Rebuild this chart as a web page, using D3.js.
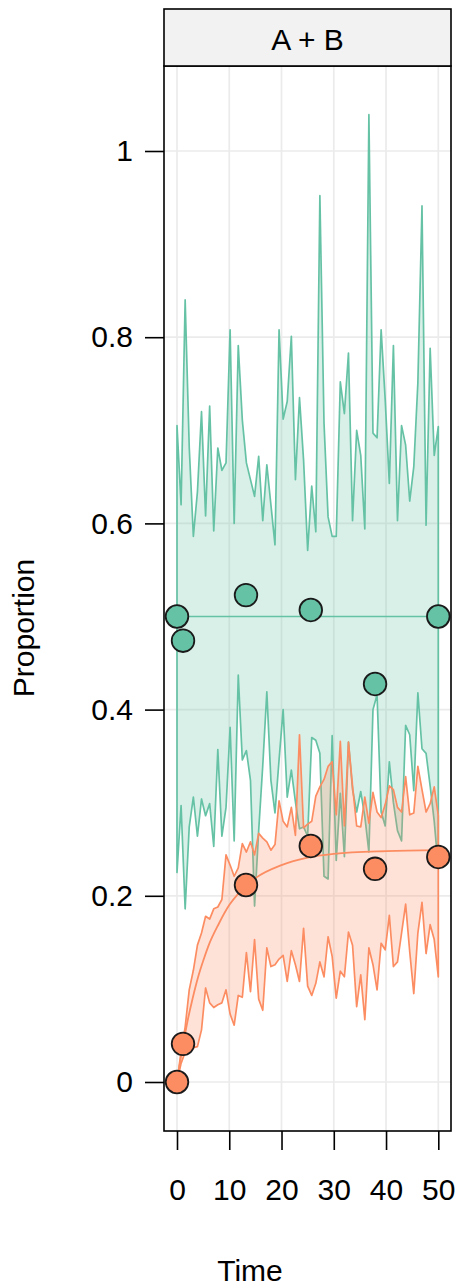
<!DOCTYPE html>
<html>
<head>
<meta charset="utf-8">
<script src="https://cdn.jsdelivr.net/npm/d3@7"></script>
<style>
  html, body { margin: 0; padding: 0; background: #ffffff; }
  svg { display: block; }
  text { font-family: "Liberation Sans", Arial, Helvetica, sans-serif; fill: #000; }
</style>
</head>
<body>
<svg id="chart" width="459" height="1286"></svg>
<script>
// ---- data ----
const panelTitle = "A + B";
const xTicks = [0, 10, 20, 30, 40, 50];
const yTicks = [0, 0.2, 0.4, 0.6, 0.8, 1];
const yTickLabels = ["0", "0.2", "0.4", "0.6", "0.8", "1"];

const bandTime = [0,0.78,1.56,2.34,3.13,3.91,4.69,5.47,6.25,7.03,7.81,8.59,9.38,10.16,10.94,11.72,
  12.5,13.28,14.06,14.84,15.63,16.41,17.19,17.97,18.75,19.53,20.31,21.09,21.88,22.66,23.44,24.22,
  25,25.78,26.56,27.34,28.13,28.91,29.69,30.47,31.25,32.03,32.81,33.59,34.38,35.16,35.94,36.72,
  37.5,38.28,39.06,39.84,40.63,41.41,42.19,42.97,43.75,44.53,45.31,46.09,46.88,47.66,48.44,49.22,50];

const aUpper = [0.705,0.620,0.840,0.682,0.586,0.634,0.720,0.608,0.726,0.592,
  0.681,0.657,0.665,0.808,0.600,0.791,0.711,0.665,0.647,0.629,
  0.672,0.603,0.663,0.620,0.577,0.808,0.712,0.731,0.801,0.647,
  0.735,0.668,0.571,0.640,0.591,0.952,0.708,0.607,0.586,0.586,
  0.752,0.718,0.783,0.603,0.700,0.673,0.594,1.039,0.697,0.692,
  0.808,0.733,0.643,0.791,0.603,0.705,0.684,0.624,0.661,0.751,
  0.941,0.598,0.788,0.673,0.704];
const aLower = [0.225,0.297,0.186,0.274,0.306,0.264,0.304,0.286,0.299,0.253,
  0.357,0.264,0.295,0.381,0.259,0.437,0.346,0.356,0.324,0.189,
  0.270,0.340,0.419,0.324,0.289,0.346,0.400,0.306,0.335,0.301,
  0.272,0.274,0.264,0.370,0.367,0.353,0.221,0.218,0.372,0.238,
  0.310,0.242,0.365,0.314,0.290,0.312,0.285,0.247,0.400,0.416,
  0.290,0.275,0.344,0.300,0.270,0.259,0.383,0.373,0.313,0.418,
  0.358,0.353,0.318,0.280,0.230];
const bUpper = [0,0.033,0.059,0.099,0.120,0.147,0.160,0.178,0.175,0.186,
  0.188,0.196,0.244,0.233,0.221,0.230,0.256,0.247,0.258,0.244,
  0.267,0.262,0.258,0.249,0.255,0.302,0.280,0.274,0.295,0.265,
  0.373,0.273,0.277,0.280,0.307,0.317,0.325,0.339,0.344,0.287,
  0.366,0.275,0.365,0.318,0.275,0.274,0.306,0.278,0.311,0.290,
  0.284,0.298,0.318,0.314,0.295,0.290,0.328,0.287,0.289,0.339,
  0.314,0.290,0.299,0.317,0.286];
const bLower = [0,0.020,0.032,0.036,0.037,0.038,0.056,0.101,0.085,0.080,
  0.083,0.085,0.099,0.073,0.061,0.093,0.091,0.139,0.097,0.153,
  0.089,0.077,0.144,0.124,0.126,0.132,0.136,0.108,0.141,0.126,
  0.108,0.165,0.103,0.093,0.106,0.129,0.113,0.156,0.135,0.090,
  0.119,0.113,0.161,0.147,0.081,0.115,0.067,0.144,0.126,0.099,
  0.149,0.142,0.179,0.124,0.129,0.160,0.191,0.140,0.095,0.160,
  0.193,0.138,0.169,0.153,0.113];

const aMeanTime = [0, 50];
const aMean = [0.5, 0.5];
const bMeanTime = [0, 1, 2, 3, 4, 5, 6, 8, 10, 12, 15, 20, 25, 30, 40, 50];
const bMean = [0, 0.035, 0.065, 0.09, 0.112, 0.13, 0.146, 0.17, 0.19, 0.204, 0.219, 0.233, 0.241, 0.245, 0.248, 0.249];

const obsTime = [0, 1.15, 13.2, 25.6, 37.9, 50];
const aObs = [0.5, 0.474, 0.523, 0.507, 0.4275, 0.5];
const bObs = [0, 0.041, 0.2116, 0.2535, 0.229, 0.2417];

const colA = "#66c2a5";
const colB = "#fc8d62";

// ---- layout ----
const svg = d3.select("#chart");
const P = { left: 164, right: 451, top: 66, bottom: 1131, stripTop: 9 };

const x = d3.scaleLinear().domain([0, 50]).range([177, 438.3]);
const y = d3.scaleLinear().domain([0, 1]).range([1082, 151]);

svg.append("defs").append("clipPath").attr("id", "clip")
  .append("rect").attr("x", P.left).attr("y", P.top)
  .attr("width", P.right - P.left).attr("height", P.bottom - P.top);

// grid
const grid = svg.append("g");
grid.selectAll("line.v").data(xTicks).join("line")
  .attr("x1", d => x(d)).attr("x2", d => x(d))
  .attr("y1", P.top).attr("y2", P.bottom)
  .attr("stroke", "#ebebeb").attr("stroke-width", 1.7);
grid.selectAll("line.h").data(yTicks).join("line")
  .attr("x1", P.left).attr("x2", P.right)
  .attr("y1", d => y(d)).attr("y2", d => y(d))
  .attr("stroke", "#ebebeb").attr("stroke-width", 1.7);

const plot = svg.append("g").attr("clip-path", "url(#clip)");

function band(upper, lower) {
  const pts = bandTime.map((t, i) => [x(t), y(upper[i])]);
  const low = bandTime.map((t, i) => [x(t), y(lower[i])]).reverse();
  return "M" + pts.concat(low).map(p => p.join(",")).join("L") + "Z";
}

plot.append("path").attr("d", band(aUpper, aLower))
  .attr("fill", colA).attr("fill-opacity", 0.25)
  .attr("stroke", colA).attr("stroke-width", 1.7).attr("stroke-linejoin", "round");
plot.append("path").attr("d", band(bUpper, bLower))
  .attr("fill", colB).attr("fill-opacity", 0.25)
  .attr("stroke", colB).attr("stroke-width", 1.7).attr("stroke-linejoin", "round");

const lineA = d3.line().x((d, i) => x(aMeanTime[i])).y(d => y(d));
plot.append("path").attr("d", lineA(aMean))
  .attr("fill", "none").attr("stroke", colA).attr("stroke-width", 1.7);
const lineB = d3.line().x((d, i) => x(bMeanTime[i])).y(d => y(d)).curve(d3.curveMonotoneX);
plot.append("path").attr("d", lineB(bMean))
  .attr("fill", "none").attr("stroke", colB).attr("stroke-width", 1.8);

plot.selectAll("circle.a").data(aObs).join("circle")
  .attr("cx", (d, i) => x(obsTime[i])).attr("cy", d => y(d)).attr("r", 11.3)
  .attr("fill", colA).attr("stroke", "#1a1a1a").attr("stroke-width", 1.8);
plot.selectAll("circle.b").data(bObs).join("circle")
  .attr("cx", (d, i) => x(obsTime[i])).attr("cy", d => y(d)).attr("r", 11.3)
  .attr("fill", colB).attr("stroke", "#1a1a1a").attr("stroke-width", 1.8);

// panel border
svg.append("rect").attr("x", P.left).attr("y", P.top)
  .attr("width", P.right - P.left).attr("height", P.bottom - P.top)
  .attr("fill", "none").attr("stroke", "#000").attr("stroke-width", 1.6);

// strip
svg.append("rect").attr("x", P.left).attr("y", P.stripTop)
  .attr("width", P.right - P.left).attr("height", P.top - P.stripTop)
  .attr("fill", "#f2f2f2").attr("stroke", "#000").attr("stroke-width", 1.6);
svg.append("text").attr("x", (P.left + P.right) / 2).attr("y", 50)
  .attr("text-anchor", "middle").attr("font-size", 30).text(panelTitle);

// axes
const xAxis = d3.axisBottom(x).tickValues(xTicks).tickSize(19).tickPadding(29).tickFormat(d3.format("d"));
const gx = svg.append("g").attr("transform", `translate(0,${P.bottom})`).call(xAxis);
gx.select(".domain").remove();
gx.selectAll(".tick line").attr("stroke", "#000").attr("stroke-width", 1.6);
gx.selectAll(".tick text").attr("font-size", 30).attr("font-family", "Liberation Sans, Arial, sans-serif").attr("fill", "#000");

const yAxis = d3.axisLeft(y).tickValues(yTicks).tickSize(19).tickPadding(12)
  .tickFormat((d, i) => yTickLabels[i]);
const gy = svg.append("g").attr("transform", `translate(${P.left},0)`).call(yAxis);
gy.select(".domain").remove();
gy.selectAll(".tick line").attr("stroke", "#000").attr("stroke-width", 1.6);
gy.selectAll(".tick text").attr("font-size", 30).attr("font-family", "Liberation Sans, Arial, sans-serif").attr("fill", "#000");

svg.append("text").attr("x", 250).attr("y", 1281).attr("text-anchor", "middle")
  .attr("font-size", 30).text("Time");
svg.append("text").attr("transform", "translate(34,628) rotate(-90)")
  .attr("text-anchor", "middle").attr("font-size", 30).text("Proportion");
</script>
</body>
</html>
